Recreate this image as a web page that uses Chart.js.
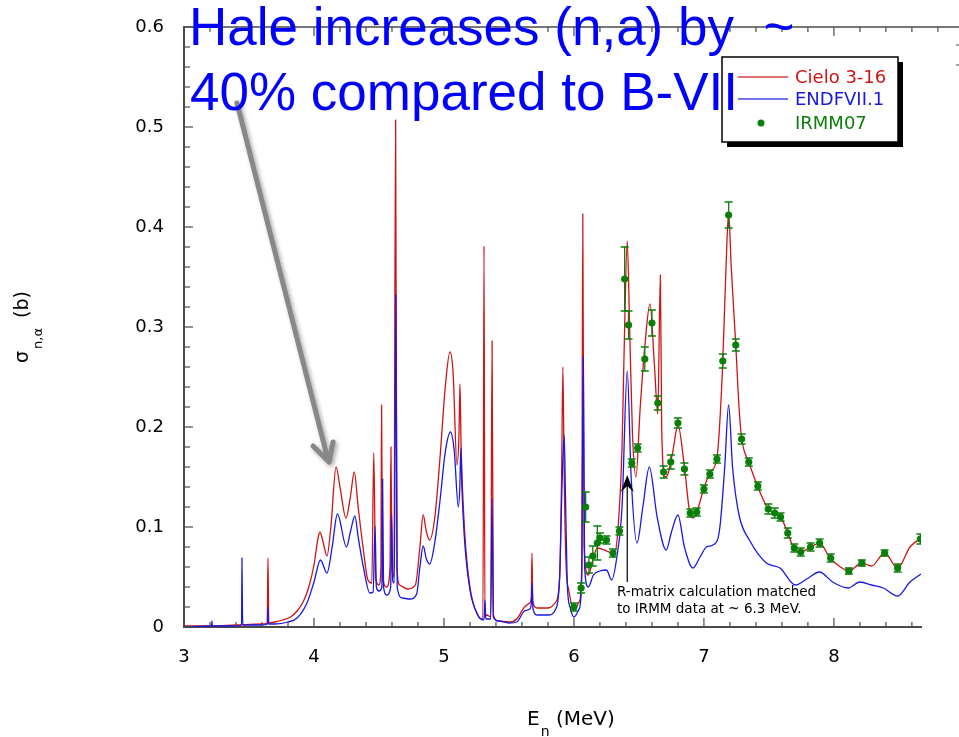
<!DOCTYPE html>
<html>
<head>
<meta charset="utf-8">
<script src="https://cdn.jsdelivr.net/npm/chart.js@4.4.0/dist/chart.umd.min.js"></script>
<style>
	html, body { margin: 0; padding: 0; background: #fff; }
	#wrap { width: 959px; height: 737px; }
</style>
</head>
<body>
<div id="wrap"><canvas id="xsChart" width="959" height="737"></canvas></div>
<script>
// Cielo 3-16 evaluation (MeV, barn)
const cieloE = [3.00, 3.20, 3.40, 3.60, 3.640, 3.646, 3.652, 3.70, 3.76, 3.82,
	3.87, 3.92, 3.96, 4.00, 4.03, 4.046, 4.07, 4.10, 4.13, 4.17,
	4.20, 4.246, 4.28, 4.31, 4.34, 4.377, 4.415, 4.445, 4.46, 4.475,
	4.50, 4.515, 4.52, 4.528, 4.56, 4.585, 4.592, 4.60, 4.615, 4.628,
	4.638, 4.66, 4.72, 4.78, 4.815, 4.84, 4.865, 4.89, 4.93, 4.97,
	5.01, 5.046, 5.07, 5.10, 5.115, 5.123, 5.132, 5.16, 5.20, 5.26,
	5.30, 5.308, 5.315, 5.33, 5.36, 5.37, 5.38, 5.42, 5.50, 5.56,
	5.62, 5.66, 5.672, 5.677, 5.683, 5.72, 5.80, 5.86, 5.89, 5.905,
	5.915, 5.925, 5.94, 5.96, 6.00, 6.04, 6.06, 6.068, 6.078, 6.11,
	6.145, 6.18, 6.25, 6.29, 6.305, 6.34, 6.37, 6.39, 6.41, 6.43,
	6.45, 6.477, 6.51, 6.545, 6.585, 6.62, 6.645, 6.665, 6.675, 6.70,
	6.72, 6.76, 6.80, 6.85, 6.89, 6.915, 6.945, 7.00, 7.046, 7.10,
	7.12, 7.145, 7.17, 7.19, 7.21, 7.245, 7.27, 7.29, 7.345, 7.415,
	7.49, 7.545, 7.59, 7.645, 7.69, 7.745, 7.82, 7.89, 7.97, 8.05,
	8.115, 8.215, 8.29, 8.39, 8.49, 8.585, 8.67];
const cieloXS = [0.001, 0.001, 0.002, 0.003, 0.004, 0.069, 0.004, 0.005, 0.007, 0.010,
	0.016, 0.026, 0.040, 0.062, 0.088, 0.095, 0.085, 0.071, 0.100, 0.160,
	0.140, 0.109, 0.130, 0.155, 0.120, 0.080, 0.047, 0.044, 0.174, 0.048,
	0.042, 0.060, 0.222, 0.050, 0.040, 0.060, 0.180, 0.060, 0.050, 0.507,
	0.060, 0.042, 0.038, 0.042, 0.080, 0.112, 0.095, 0.087, 0.110, 0.170,
	0.240, 0.275, 0.255, 0.162, 0.190, 0.243, 0.180, 0.094, 0.040, 0.012,
	0.008, 0.381, 0.010, 0.012, 0.010, 0.286, 0.012, 0.006, 0.005, 0.008,
	0.020, 0.024, 0.030, 0.074, 0.025, 0.019, 0.019, 0.025, 0.050, 0.150,
	0.260, 0.150, 0.060, 0.037, 0.017, 0.025, 0.060, 0.413, 0.080, 0.052,
	0.067, 0.079, 0.076, 0.073, 0.070, 0.100, 0.180, 0.300, 0.386, 0.290,
	0.194, 0.150, 0.220, 0.280, 0.323, 0.260, 0.213, 0.352, 0.200, 0.150,
	0.152, 0.175, 0.202, 0.160, 0.115, 0.109, 0.115, 0.139, 0.154, 0.169,
	0.200, 0.266, 0.360, 0.415, 0.360, 0.282, 0.220, 0.189, 0.165, 0.140,
	0.119, 0.113, 0.110, 0.094, 0.079, 0.075, 0.080, 0.084, 0.069, 0.060,
	0.056, 0.064, 0.061, 0.074, 0.059, 0.080, 0.089];

// ENDF/B-VII.1
const endfE = [3.00, 3.20, 3.212, 3.215, 3.218, 3.40, 3.443, 3.446, 3.450, 3.455,
	3.60, 3.643, 3.646, 3.650, 3.70, 3.80, 3.87, 3.946, 4.00, 4.05,
	4.10, 4.14, 4.18, 4.25, 4.28, 4.315, 4.34, 4.38, 4.43, 4.455,
	4.47, 4.48, 4.50, 4.522, 4.528, 4.535, 4.56, 4.59, 4.598, 4.606,
	4.618, 4.630, 4.640, 4.68, 4.74, 4.79, 4.815, 4.84, 4.865, 4.89,
	4.93, 4.97, 5.01, 5.05, 5.08, 5.11, 5.122, 5.13, 5.138, 5.16,
	5.20, 5.26, 5.30, 5.31, 5.315, 5.322, 5.36, 5.37, 5.38, 5.42,
	5.50, 5.56, 5.62, 5.66, 5.673, 5.678, 5.685, 5.72, 5.80, 5.86,
	5.89, 5.91, 5.925, 5.935, 5.95, 5.97, 6.00, 6.04, 6.06, 6.072,
	6.082, 6.11, 6.15, 6.20, 6.25, 6.29, 6.33, 6.37, 6.41, 6.44,
	6.485, 6.53, 6.58, 6.64, 6.71, 6.75, 6.80, 6.85, 6.915, 6.97,
	7.02, 7.07, 7.12, 7.16, 7.19, 7.22, 7.27, 7.35, 7.48, 7.585,
	7.705, 7.79, 7.89, 7.99, 8.11, 8.20, 8.29, 8.38, 8.49, 8.585, 8.67];
const endfXS = [0.000, 0.001, 0.001, 0.006, 0.001, 0.001, 0.002, 0.069, 0.010, 0.002,
	0.002, 0.003, 0.020, 0.003, 0.003, 0.005, 0.009, 0.024, 0.045, 0.067,
	0.054, 0.080, 0.113, 0.080, 0.095, 0.111, 0.090, 0.060, 0.034, 0.035,
	0.101, 0.040, 0.036, 0.040, 0.148, 0.040, 0.032, 0.040, 0.112, 0.046,
	0.044, 0.332, 0.040, 0.029, 0.028, 0.033, 0.060, 0.081, 0.068, 0.063,
	0.085, 0.127, 0.175, 0.195, 0.175, 0.120, 0.140, 0.179, 0.140, 0.084,
	0.037, 0.012, 0.007, 0.010, 0.027, 0.008, 0.008, 0.128, 0.010, 0.006,
	0.004, 0.005, 0.016, 0.018, 0.025, 0.044, 0.018, 0.012, 0.012, 0.018,
	0.050, 0.150, 0.192, 0.130, 0.040, 0.020, 0.010, 0.018, 0.050, 0.270,
	0.060, 0.040, 0.052, 0.056, 0.057, 0.047, 0.070, 0.120, 0.256, 0.150,
	0.084, 0.120, 0.160, 0.110, 0.077, 0.095, 0.112, 0.080, 0.059, 0.070,
	0.080, 0.082, 0.097, 0.160, 0.222, 0.160, 0.112, 0.087, 0.064, 0.059,
	0.042, 0.048, 0.055, 0.045, 0.039, 0.045, 0.042, 0.039, 0.031, 0.045, 0.053];

// IRMM 2007 measurement
const irmmE = [6.00, 6.055, 6.09, 6.115, 6.145, 6.18, 6.20, 6.25, 6.30, 6.35,
	6.39, 6.42, 6.445, 6.49, 6.545, 6.60, 6.645, 6.69, 6.745, 6.80,
	6.85, 6.895, 6.945, 7.00, 7.046, 7.10, 7.145, 7.19, 7.245, 7.29,
	7.345, 7.415, 7.495, 7.545, 7.59, 7.645, 7.695, 7.745, 7.82, 7.89,
	7.975, 8.115, 8.215, 8.39, 8.49, 8.665];
const irmmXS = [0.020, 0.039, 0.120, 0.062, 0.071, 0.084, 0.089, 0.087, 0.074, 0.096,
	0.348, 0.302, 0.164, 0.179, 0.268, 0.304, 0.224, 0.155, 0.165, 0.204,
	0.158, 0.114, 0.115, 0.138, 0.153, 0.168, 0.266, 0.412, 0.282, 0.188,
	0.165, 0.141, 0.118, 0.114, 0.110, 0.094, 0.079, 0.075, 0.080, 0.084,
	0.069, 0.056, 0.064, 0.074, 0.059, 0.088];
const irmmErr = [0.004, 0.005, 0.015, 0.008, 0.010, 0.017, 0.005, 0.004, 0.004, 0.004,
	0.032, 0.014, 0.004, 0.004, 0.012, 0.013, 0.007, 0.006, 0.007, 0.005,
	0.006, 0.004, 0.004, 0.004, 0.004, 0.004, 0.007, 0.013, 0.006, 0.005,
	0.004, 0.004, 0.005, 0.005, 0.004, 0.005, 0.004, 0.004, 0.004, 0.004,
	0.004, 0.003, 0.003, 0.003, 0.004, 0.005];

const xMin = 3, xMax = 8.67, yMin = 0, yMax = 0.6;
const seriesNames = ['Cielo 3-16', 'ENDFVII.1', 'IRMM07'];

const RED = '#d01414', BLUE = '#1818e6', GREEN = '#0a7f0a', AXIS = '#4a4a4a';
const TICK_FONT = '"DejaVu Sans", Verdana, sans-serif';

function pairs(xs, ys) {
	const n = Math.min(xs.length, ys.length);
	const out = [];
	for (let i = 0; i < n; i++) out.push({ x: xs[i], y: ys[i] });
	return out;
}

// error bars for the IRMM points
const errorBars = {
	id: 'errorBars',
	afterDatasetsDraw(chart) {
		const ctx = chart.ctx, x = chart.scales.x, y = chart.scales.y, a = chart.chartArea;
		ctx.save();
		ctx.beginPath();
		ctx.rect(a.left, a.top, a.right - a.left, a.bottom - a.top);
		ctx.clip();
		ctx.strokeStyle = GREEN;
		ctx.lineWidth = 1.3;
		for (let i = 0; i < irmmE.length; i++) {
			const px = x.getPixelForValue(irmmE[i]);
			const lo = y.getPixelForValue(irmmXS[i] - irmmErr[i]);
			const hi = y.getPixelForValue(irmmXS[i] + irmmErr[i]);
			ctx.beginPath();
			ctx.moveTo(px, lo); ctx.lineTo(px, hi);
			ctx.moveTo(px - 4, lo); ctx.lineTo(px + 4, lo);
			ctx.moveTo(px - 4, hi); ctx.lineTo(px + 4, hi);
			ctx.stroke();
		}
		ctx.restore();
	}
};

// inward ticks, top frame line, labels and annotations
const decorations = {
	id: 'decorations',
	afterDraw(chart) {
		const ctx = chart.ctx, x = chart.scales.x, y = chart.scales.y, a = chart.chartArea;
		ctx.save();
		ctx.strokeStyle = AXIS;
		ctx.lineWidth = 1.5;

		// top frame line runs to the edge of the picture
		ctx.beginPath();
		ctx.moveTo(a.left, a.top); ctx.lineTo(chart.width, a.top);
		ctx.stroke();

		ctx.lineWidth = 1.2;
		for (let i = 0; i <= 30; i++) {
			const e = xMin + 0.2 * i;
			const px = x.getPixelForValue(e);
			const len = i % 5 === 0 ? 9 : 5;
			ctx.beginPath();
			if (e <= xMax + 1e-6) { ctx.moveTo(px, a.bottom); ctx.lineTo(px, a.bottom - len); }
			if (px < chart.width - 2) { ctx.moveTo(px, a.top); ctx.lineTo(px, a.top + len); }
			ctx.stroke();
		}
		for (let j = 0; j <= 30; j++) {
			const py = y.getPixelForValue(0.02 * j);
			const len = j % 5 === 0 ? 9 : 6;
			ctx.beginPath();
			ctx.moveTo(a.left, py); ctx.lineTo(a.left + len, py);
			ctx.stroke();
		}
		// bits of a neighbouring frame at the right edge
		ctx.beginPath();
		ctx.moveTo(chart.width - 3, 45); ctx.lineTo(chart.width, 45);
		ctx.moveTo(chart.width - 3, 65); ctx.lineTo(chart.width, 65);
		ctx.stroke();

		// axis titles
		ctx.fillStyle = '#000';
		ctx.textBaseline = 'alphabetic';
		ctx.textAlign = 'left';
		ctx.font = '20px ' + TICK_FONT;
		ctx.fillText('E', 527, 725);
		const ew = ctx.measureText('E').width;
		ctx.font = '14px ' + TICK_FONT;
		ctx.fillText('n', 527 + ew + 1, 736);
		ctx.font = '20px ' + TICK_FONT;
		ctx.fillText('(MeV)', 556, 725);

		ctx.save();
		ctx.translate(28, 363);
		ctx.rotate(-Math.PI / 2);
		ctx.font = '19px ' + TICK_FONT;
		ctx.fillText('σ', 0, 0);
		const sw = ctx.measureText('σ').width;
		ctx.font = '13px ' + TICK_FONT;
		ctx.fillText('n,α', sw + 2, 14);
		const nw = ctx.measureText('n,α').width;
		ctx.font = '19px ' + TICK_FONT;
		ctx.fillText('(b)', sw + nw + 12, 0);
		ctx.restore();

		// R-matrix note with black arrow
		const ax = x.getPixelForValue(6.41);
		ctx.strokeStyle = '#000';
		ctx.lineWidth = 1.2;
		ctx.beginPath();
		ctx.moveTo(ax, 582); ctx.lineTo(ax, 484);
		ctx.stroke();
		ctx.fillStyle = '#000';
		ctx.beginPath();
		ctx.moveTo(ax, 475); ctx.lineTo(ax + 6.5, 492); ctx.lineTo(ax, 486); ctx.lineTo(ax - 6.5, 492);
		ctx.closePath();
		ctx.fill();
		ctx.font = '13.5px ' + TICK_FONT;
		ctx.fillText('R-matrix calculation matched', 617, 596);
		ctx.fillText('to IRMM data at ~ 6.3 MeV.', 617, 613);

		// legend box with hard shadow
		const lx = 722, ly = 57, lw = 176, lh = 85;
		ctx.fillStyle = '#000';
		ctx.fillRect(lx + 5, ly + 5, lw, lh);
		ctx.fillStyle = '#fff';
		ctx.fillRect(lx, ly, lw, lh);
		ctx.strokeStyle = '#000';
		ctx.lineWidth = 1.5;
		ctx.strokeRect(lx, ly, lw, lh);
		const colors = [RED, BLUE, GREEN];
		const rows = [77, 99, 123];
		ctx.font = '18px ' + TICK_FONT;
		ctx.textBaseline = 'middle';
		for (let k = 0; k < seriesNames.length; k++) {
			ctx.strokeStyle = colors[k];
			ctx.fillStyle = colors[k];
			if (k < 2) {
				ctx.lineWidth = 1.4;
				ctx.globalAlpha = 0.8;
				ctx.beginPath();
				ctx.moveTo(738, rows[k]); ctx.lineTo(788, rows[k]);
				ctx.stroke();
				ctx.globalAlpha = 1;
			} else {
				ctx.beginPath();
				ctx.arc(761, rows[k], 3.5, 0, Math.PI * 2);
				ctx.fill();
			}
			ctx.fillText(seriesNames[k], 795, rows[k] + 1);
		}

		// grey pointer arrow
		ctx.save();
		ctx.shadowColor = 'rgba(0,0,0,0.35)';
		ctx.shadowBlur = 4;
		ctx.shadowOffsetX = 2;
		ctx.shadowOffsetY = 2;
		ctx.strokeStyle = '#888';
		ctx.lineWidth = 5;
		ctx.lineCap = 'round';
		ctx.lineJoin = 'round';
		ctx.beginPath();
		ctx.moveTo(237, 103); ctx.lineTo(328, 460);
		ctx.moveTo(313, 446); ctx.lineTo(329, 462); ctx.lineTo(333, 442);
		ctx.stroke();
		ctx.restore();

		// headline
		ctx.fillStyle = '#0000ff';
		ctx.textBaseline = 'alphabetic';
		ctx.font = '53px "Liberation Sans", Arial, sans-serif';
		ctx.fillText('Hale increases (n,a) by  ~', 189, 45);
		ctx.fillText('40% compared to B-VII', 190, 110);
		ctx.restore();
	}
};

const ctx = document.getElementById('xsChart').getContext('2d');

new Chart(ctx, {
	type: 'scatter',
	data: {
		datasets: [
			{
				label: seriesNames[2],
				data: pairs(irmmE, irmmXS),
				backgroundColor: GREEN,
				borderColor: GREEN,
				pointRadius: 3.6,
				pointBorderWidth: 0,
				order: 0
			},
			{
				label: seriesNames[1],
				data: pairs(endfE, endfXS),
				showLine: true,
				borderColor: BLUE,
				borderWidth: 1.3,
				pointRadius: 0,
				cubicInterpolationMode: 'monotone',
				order: 1
			},
			{
				label: seriesNames[0],
				data: pairs(cieloE, cieloXS),
				showLine: true,
				borderColor: RED,
				borderWidth: 1.3,
				pointRadius: 0,
				cubicInterpolationMode: 'monotone',
				order: 2
			}
		]
	},
	options: {
		responsive: false,
		animation: false,
		layout: { autoPadding: false, padding: { left: 0, right: 38, top: 27, bottom: 0 } },
		plugins: {
			legend: { display: false },
			tooltip: { enabled: false }
		},
		scales: {
			x: {
				type: 'linear',
				min: xMin,
				max: xMax,
				grid: { display: false, drawTicks: false },
				border: { display: true, color: AXIS, width: 2 },
				afterFit: function (scale) {
					scale.height = 110;
					scale.paddingLeft = 0;
					scale.paddingRight = 0;
				},
				ticks: {
					stepSize: 0.2,
					autoSkip: false,
					maxRotation: 0,
					padding: 20,
					color: '#000',
					font: { family: TICK_FONT, size: 18 },
					callback: function (v) {
						return Math.abs(v - Math.round(v)) < 1e-6 ? String(Math.round(v)) : '';
					}
				}
			},
			y: {
				type: 'linear',
				min: yMin,
				max: yMax,
				grid: { display: false, drawTicks: false },
				border: { display: true, color: AXIS, width: 2 },
				afterFit: function (scale) {
					scale.width = 184;
					scale.paddingTop = 0;
					scale.paddingBottom = 0;
				},
				ticks: {
					stepSize: 0.02,
					autoSkip: false,
					padding: 20,
					color: '#000',
					font: { family: TICK_FONT, size: 18 },
					callback: function (v) {
						const r = Math.round(v * 50);
						if (r % 5 !== 0) return '';
						return r === 0 ? '0' : (r / 50).toFixed(1);
					}
				}
			}
		}
	},
	plugins: [errorBars, decorations]
});
</script>
</body>
</html>
